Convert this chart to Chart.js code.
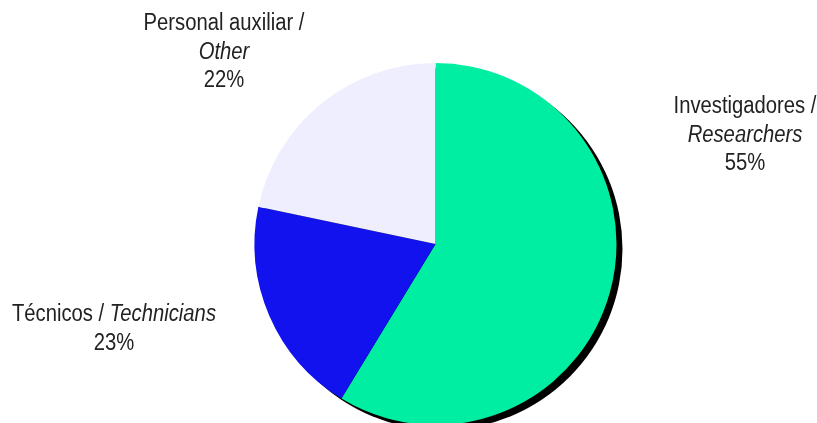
<!DOCTYPE html>
<html>
<head>
<meta charset="utf-8">
<script src="https://cdn.jsdelivr.net/npm/chart.js@4.4.1/dist/chart.umd.min.js"></script>
<style>
  html, body { margin: 0; padding: 0; background: #fff; overflow: hidden; }
</style>
</head>
<body>
<canvas id="chart1" width="817" height="426"></canvas>
<script>
// shares as drawn (angles), printed labels kept separately
var categories = ['Investigadores', 'Técnicos', 'Personal auxiliar'];
var categoriesEn = ['Researchers', 'Technicians', 'Other'];
var shares = [58.7, 19.6, 21.7];
var pctLabels = ['55%', '23%', '22%'];
var colors = ['#00EEA2', '#1212EE', '#EEEEFF'];

// where each text block sits, and how it is split in lines
var labelSetup = [
  { x: 745, y: 107, lines: [[categories[0] + ' /', false], [categoriesEn[0], true], [pctLabels[0], false]] },
  { x: 114, y: 315, lines: [[categories[1] + ' / ', false, categoriesEn[1]], [pctLabels[1], false]] },
  { x: 224, y: 24, lines: [[categories[2] + ' /', false], [categoriesEn[2], true], [pctLabels[2], false]] }
];

// narrow look: Liberation Sans squeezed horizontally
var FONT = '"Liberation Sans", Arial, sans-serif';
var FSIZE = 23;
var SQUEEZE = 0.88;
var LINE = 28.5;

var shadowPlugin = {
  id: 'shadow',
  beforeDatasetsDraw: function(chart) {
    var arc = chart.getDatasetMeta(0).data[0];
    var ctx = chart.ctx;
    ctx.save();
    ctx.fillStyle = '#000';
    ctx.beginPath();
    ctx.arc(arc.x + 6, arc.y + 5, arc.outerRadius, 0, Math.PI * 2);
    ctx.fill();
    ctx.restore();
  }
};

var labelPlugin = {
  id: 'labels',
  afterDraw: function(chart) {
    var ctx = chart.ctx;
    var normal = FSIZE + 'px ' + FONT;
    var italic = 'italic ' + FSIZE + 'px ' + FONT;
    labelSetup.forEach(function(b) {
      b.lines.forEach(function(l, i) {
        var y = b.y + i * LINE;
        ctx.save();
        ctx.fillStyle = '#222';
        ctx.textBaseline = 'middle';
        ctx.translate(b.x, y);
        ctx.scale(SQUEEZE, 1);
        if (l.length === 3) {
          ctx.font = normal;
          var w1 = ctx.measureText(l[0]).width;
          ctx.font = italic;
          var w2 = ctx.measureText(l[2]).width;
          var x0 = -(w1 + w2) / 2;
          ctx.textAlign = 'left';
          ctx.font = normal;
          ctx.fillText(l[0], x0, 0);
          ctx.font = italic;
          ctx.fillText(l[2], x0 + w1, 0);
        } else {
          ctx.textAlign = 'center';
          ctx.font = l[1] ? italic : normal;
          ctx.fillText(l[0], 0, 0);
        }
        ctx.restore();
      });
    });
  }
};

var ctx = document.getElementById('chart1').getContext('2d');
var pieChart = new Chart(ctx, {
  type: 'pie',
  data: {
    labels: categories,
    datasets: [{
      data: shares,
      backgroundColor: colors,
      borderWidth: 0
    }]
  },
  options: {
    responsive: false,
    animation: false,
    layout: { padding: { left: 254.5, right: 200.5, top: 63, bottom: 1 } },
    plugins: {
      legend: { display: false },
      tooltip: { enabled: false }
    }
  },
  plugins: [shadowPlugin, labelPlugin]
});
</script>
</body>
</html>
